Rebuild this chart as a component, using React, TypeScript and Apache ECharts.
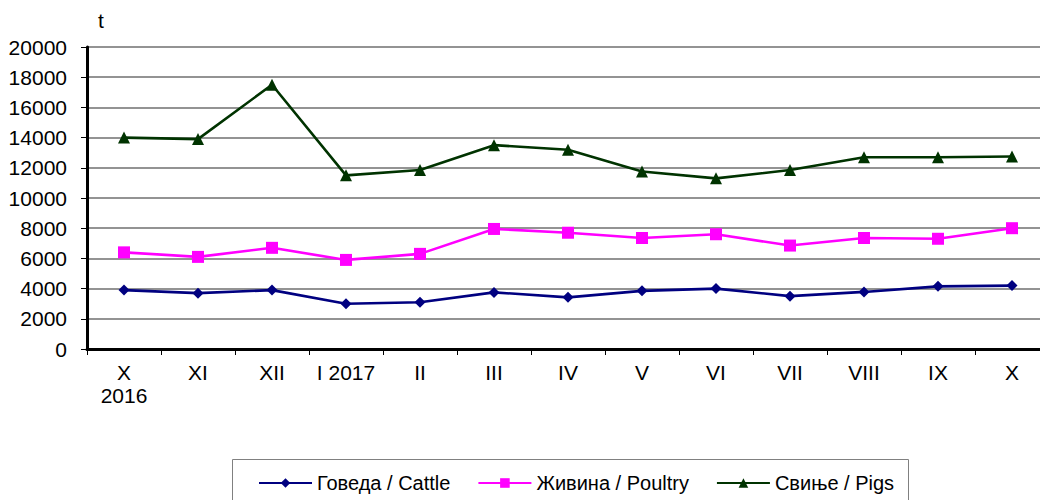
import React, { useEffect, useRef } from "react";
import * as echarts from "echarts";

const categories = ["X\n2016", "XI", "XII", "I 2017", "II", "III", "IV", "V", "VI", "VII", "VIII", "IX", "X"];
const cattle = [3900, 3700, 3900, 3000, 3100, 3750, 3420, 3850, 4000, 3500, 3780, 4150, 4200];
const poultry = [6400, 6100, 6700, 5900, 6300, 7950, 7700, 7350, 7600, 6850, 7350, 7300, 8000];
const pigs = [14000, 13900, 17500, 11500, 11850, 13500, 13200, 11750, 11300, 11850, 12700, 12700, 12750];
const seriesNames = ["Говеда / Cattle", "Живина / Poultry", "Свиње / Pigs"];
const unitLabel = "t";

const FONT = "'Liberation Sans', Arial, sans-serif";

export default function App() {
  const ref = useRef<HTMLDivElement>(null);
  useEffect(() => {
    if (!ref.current) return;
    const chart = echarts.init(ref.current, undefined, { renderer: "svg" });
    const mk = (name: string, data: number[], color: string, symbol: string, size: number) => ({
      name,
      type: "line",
      data,
      symbol,
      symbolSize: size,
      showAllSymbol: true,
      itemStyle: { color },
      lineStyle: { color, width: 2.6 },
      z: 3,
    });
    chart.setOption({
      animation: false,
      backgroundColor: "#ffffff",
      textStyle: { fontFamily: FONT },
      grid: { left: 87, top: 47, width: 962, height: 302, containLabel: false, outerBoundsMode: "none" },
      graphic: [
        {
          type: "rect",
          shape: { x: 232.5, y: 459.5, width: 676, height: 60 },
          style: { fill: "#ffffff", stroke: "#808080", lineWidth: 1 },
          z: 0,
        },
        {
          type: "text",
          x: 98,
          y: 10,
          style: { text: unitLabel, fontSize: 21, fontFamily: FONT, fill: "#000" },
        },
      ],
      legend: {
        left: 258,
        top: 473,
        padding: 0,
        itemWidth: 53,
        itemHeight: 12,
        itemGap: 27,
        textStyle: { fontSize: 20, fontFamily: FONT, color: "#000" },
        data: seriesNames,
      },
      xAxis: {
        type: "category",
        data: categories,
        boundaryGap: true,
        axisLine: { lineStyle: { color: "#000", width: 3 } },
        axisTick: { show: true, length: 6, inside: false, lineStyle: { color: "#000", width: 1 } },
        axisLabel: { fontSize: 21, fontFamily: FONT, color: "#000", margin: 12, lineHeight: 23, interval: 0 },
        splitLine: { show: false },
      },
      yAxis: {
        type: "value",
        min: 0,
        max: 20000,
        interval: 2000,
        axisLine: { show: true, lineStyle: { color: "#000", width: 3 } },
        axisTick: { show: true, length: 6, lineStyle: { color: "#000", width: 1 } },
        axisLabel: {
          fontSize: 21,
          fontFamily: FONT,
          color: "#000",
          margin: 20,
          formatter: (v: number) => String(v),
        },
        splitLine: { show: true, lineStyle: { color: "#6f6f6f", width: 1.5 } },
      },
      series: [
        mk(seriesNames[0], cattle, "#000080", "diamond", 11),
        mk(seriesNames[1], poultry, "#ff00ff", "rect", 12),
        mk(seriesNames[2], pigs, "#003300", "triangle", 12),
      ],
    });
    return () => chart.dispose();
  }, []);
  return (
    <div
      ref={ref}
      style={{ position: "absolute", left: 0, top: 0, width: 1040, height: 500, overflow: "hidden" }}
    />
  );
}
